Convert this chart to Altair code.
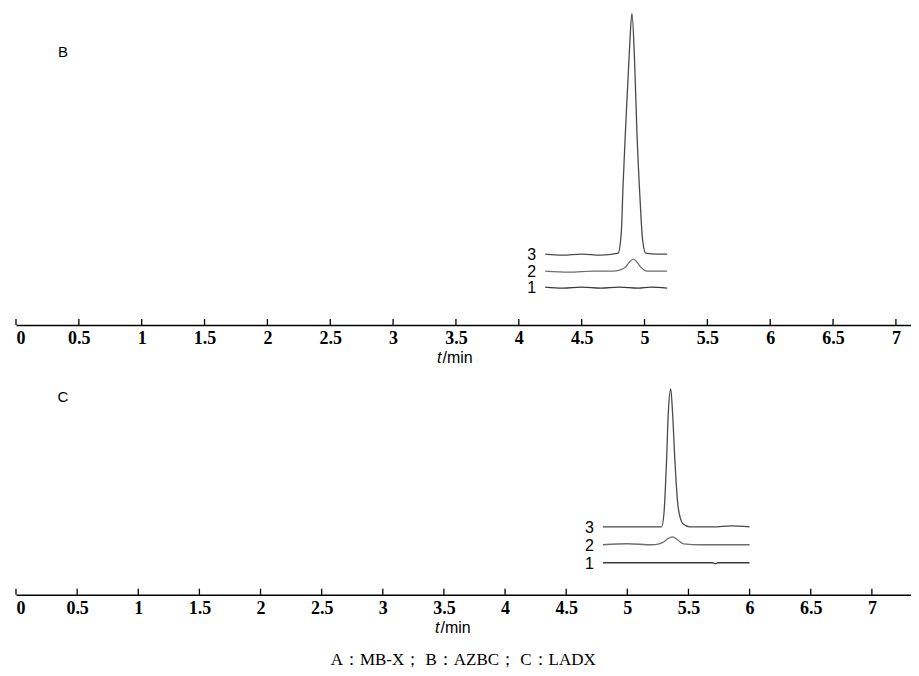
import altair as alt
import pandas as pd

# ---------------- data ----------------
tick_values = [0, 0.5, 1, 1.5, 2, 2.5, 3, 3.5, 4, 4.5, 5, 5.5, 6, 6.5, 7]

# Panel B (AZBC) -- signal in arbitrary units
b1_t = [4.21, 4.35, 4.50, 4.65, 4.80, 4.95, 5.05, 5.18]
b1_s = [38, 37, 38, 37, 38, 37, 38, 37]
b2_t = [4.21, 4.40, 4.60, 4.75, 4.80, 4.85, 4.88, 4.91, 4.94, 4.97, 5.02, 5.10, 5.18]
b2_s = [54, 53, 54, 54, 55, 58, 63, 66, 63, 58, 54, 54, 54]
b3_t = [4.21, 4.35, 4.50, 4.65, 4.79, 4.815, 4.83, 4.85, 4.88, 4.90, 4.92, 4.94, 4.965, 4.985, 5.01, 5.10, 5.18]
b3_s = [71, 70, 71, 70, 72, 92, 142, 198, 275, 312, 268, 192, 125, 85, 72, 71, 71]

# Panel C (LADX)
c1_t = [4.80, 5.00, 5.20, 5.40, 5.60, 5.70, 5.72, 5.74, 5.90, 6.00]
c1_s = [32, 32, 32, 32, 32, 32, 31, 32, 32, 32]
c2_t = [4.80, 5.00, 5.20, 5.26, 5.30, 5.33, 5.37, 5.41, 5.46, 5.60, 5.80, 6.00]
c2_s = [50, 51, 50, 51, 53, 56, 58, 55, 51, 50, 50, 50]
c3_t = [4.80, 5.00, 5.20, 5.28, 5.30, 5.32, 5.335, 5.355, 5.37, 5.39, 5.415, 5.455, 5.51, 5.70, 5.85, 6.00]
c3_s = [68, 68, 68, 68, 82, 132, 182, 206, 182, 132, 88, 71, 68, 68, 69, 68]

trace_names = ["1", "2", "3"]
trace_colors = ["#3a3a3a", "#6e6e6e", "#4a4a4a"]

# ---------------- helpers ----------------
W = 896
SERIF = "Liberation Serif"
SANS = "Liberation Sans"


def panel(letter, traces, xmax, ymax, height, title_px, letter_y):
    rows = []
    for name, (ts, ss) in zip(trace_names, traces):
        for t, s in zip(ts, ss):
            rows.append({"t": t, "s": s, "trace": name})
    df = pd.DataFrame(rows)
    lab = pd.DataFrame({
        "t": [tr[0][0] for tr in traces],
        "s": [tr[1][0] for tr in traces],
        "trace": trace_names,
    })
    ticks = pd.DataFrame({"t": tick_values})

    xs = alt.Scale(domain=[0, xmax], nice=False, zero=False)
    ys = alt.Scale(domain=[0, ymax], nice=False, zero=False)
    xax = alt.Axis(values=tick_values, format="~g", ticks=False, grid=False, title=None,
                   domainColor="black", domainWidth=1.6,
                   labelFont=SERIF, labelFontWeight="bold", labelFontSize=18,
                   labelColor="black", labelPadding=5)

    lines = alt.Chart(df).mark_line(strokeWidth=1.3, interpolate="monotone").encode(
        x=alt.X("t:Q", scale=xs, title=None, axis=xax),
        y=alt.Y("s:Q", scale=ys, axis=None),
        color=alt.Color("trace:N", scale=alt.Scale(domain=trace_names, range=trace_colors),
                        legend=None),
        detail="trace:N",
    )
    labels = alt.Chart(lab).mark_text(align="right", baseline="middle", dx=-9, dy=1,
                                      font=SANS, fontSize=16, color="black").encode(
        x=alt.X("t:Q", scale=xs, axis=xax), y=alt.Y("s:Q", scale=ys, axis=None),
        text="trace:N")
    tickmarks = alt.Chart(ticks).mark_rule(color="black", strokeWidth=1.3).encode(
        x=alt.X("t:Q", scale=xs, axis=xax), y=alt.value(height), y2=alt.value(height - 6))
    letter_txt = alt.Chart(pd.DataFrame({"l": [letter]})).mark_text(
        font=SANS, fontSize=15, color="black", align="center", baseline="middle").encode(
        x=alt.value(47), y=alt.value(letter_y), text="l:N")
    t_txt = alt.Chart(pd.DataFrame({"l": ["t"]})).mark_text(
        font=SANS, fontSize=16, fontStyle="italic", color="black", align="right",
        baseline="middle").encode(x=alt.value(title_px), y=alt.value(height + 33), text="l:N")
    min_txt = alt.Chart(pd.DataFrame({"l": ["/min"]})).mark_text(
        font=SANS, fontSize=16, color="black", align="left",
        baseline="middle").encode(x=alt.value(title_px + 1), y=alt.value(height + 33), text="l:N")

    return alt.layer(lines, tickmarks, labels, letter_txt, t_txt, min_txt).properties(
        width=W, height=height)


pB = panel("B", [(b1_t, b1_s), (b2_t, b2_s), (b3_t, b3_s)], 7.12, 317, 317, 426, 44)
pC = panel("C", [(c1_t, c1_s), (c2_t, c2_s), (c3_t, c3_s)], 7.32, 212, 212, 424, 14)

chart = alt.vconcat(pB, pC, spacing=17).properties(
    padding={"left": 7, "top": 0, "right": 0, "bottom": 0},
    title=alt.TitleParams("A：MB-X； B：AZBC； C：LADX", orient="bottom", anchor="middle",
                          font=SERIF, fontSize=17, fontWeight="normal", color="black",
                          offset=16),
).configure_view(stroke=None)

chart.save("out.html", embed_options={"renderer": "svg", "actions": False})
